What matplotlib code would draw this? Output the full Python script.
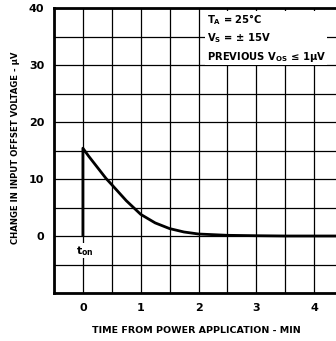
import matplotlib
matplotlib.use("Agg")
import matplotlib.pyplot as plt

# Data
time_min = [0.0, 0.0, 0.1, 0.2, 0.3, 0.4, 0.5, 0.75, 1.0, 1.25, 1.5, 1.75, 2.0, 2.5, 3.0, 3.5, 4.0, 4.5]
delta_vos = [0.0, 15.4, 14.0, 12.7, 11.4, 10.1, 9.0, 6.2, 3.8, 2.3, 1.3, 0.7, 0.35, 0.12, 0.05, 0.0, 0.0, 0.0]
x_ticks = [0, 1, 2, 3, 4]
y_ticks = [0, 10, 20, 30, 40]
x_label = "TIME FROM POWER APPLICATION - MIN"
y_label = "CHANGE IN INPUT OFFSET VOLTAGE - \u03bcV"
notes = ["$\\mathregular{T_A}$ = 25\u00b0C", "$\\mathregular{V_S}$ = \u00b1 15V", "PREVIOUS $\\mathregular{V_{OS}}$ \u2264 1\u03bcV"]

plt.rcParams['font.family'] = ['DejaVu Sans']
plt.rcParams['font.weight'] = 'bold'
plt.rcParams['mathtext.default'] = 'regular'

fig = plt.figure(figsize=(3.36, 3.41), dpi=100)
ax = fig.add_axes([54/336, 48/341, (343-54)/336, 285/341])
ax.set_xlim(-0.5, 4.5)
ax.set_ylim(-10, 40)

# grid every 0.5 min and 5 uV
for gx in [i*0.5 for i in range(-1, 10)]:
    ax.axvline(gx, color='black', lw=0.9, zorder=1)
for gy in range(-10, 41, 5):
    ax.axhline(gy, color='black', lw=0.9, zorder=1)

ax.plot(time_min, delta_vos, color='black', lw=2.0, zorder=3, solid_capstyle='butt')

ax.set_xticks(x_ticks)
ax.set_yticks(y_ticks)
ax.tick_params(length=0, labelsize=8)
ax.tick_params(axis='x', pad=7)
ax.tick_params(axis='y', pad=7)
for lab in ax.get_xticklabels() + ax.get_yticklabels():
    lab.set_fontweight('bold')
ax.set_xlabel(x_label, fontsize=6.8, fontweight='bold')
ax.set_ylabel(y_label, fontsize=6.1, fontweight='bold')
ax.xaxis.set_label_coords((196-54)/(343-54), -0.115)
ax.yaxis.set_label_coords(-(54-20)/(343-54), (293-148)/285)

for s in ax.spines.values():
    s.set_linewidth(2.0)
    s.set_zorder(6)

ax.text(0.03, -2.6, "$t_{on}$", fontsize=8, ha='center', va='center', zorder=5,
        bbox=dict(facecolor='white', edgecolor='none', pad=0.5))

ax.text(2.14, 39.3, "\n".join(notes), fontsize=7.2, ha='left', va='top', zorder=5,
        linespacing=1.45,
        bbox=dict(facecolor='white', edgecolor='none', boxstyle='square,pad=0.15'))

fig.savefig("out.png", dpi=100)
